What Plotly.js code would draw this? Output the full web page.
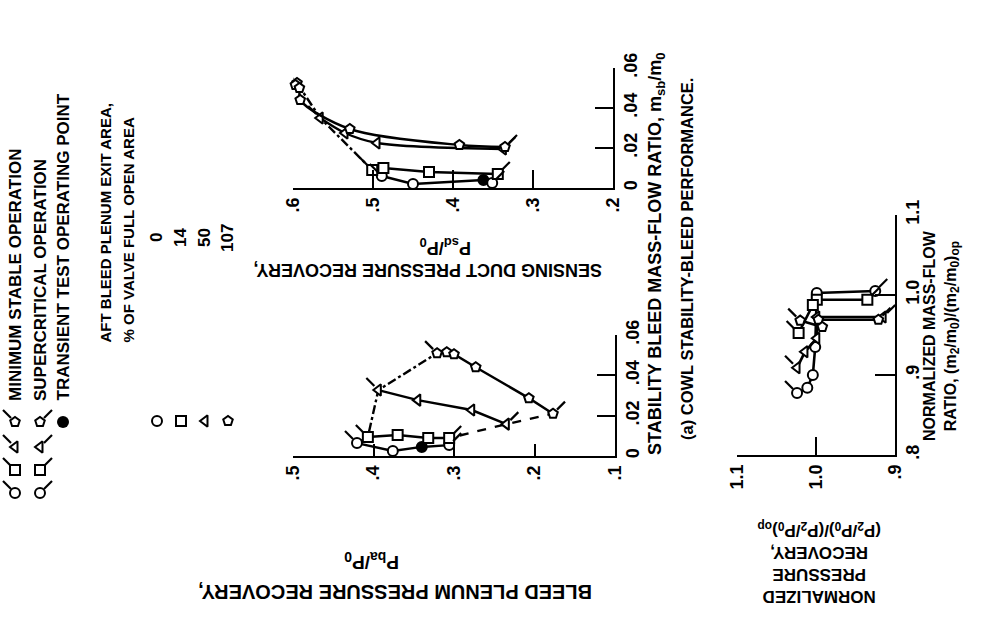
<!DOCTYPE html>
<html><head><meta charset="utf-8">
<script src="https://cdn.plot.ly/plotly-3.0.1.min.js"></script>
<style>html,body{margin:0;padding:0;background:#fff}#chart{width:984px;height:621px}</style>
</head><body><div id="chart"></div>
<script>
// ================= DATA =================
// (a) Bleed plenum pressure recovery Pba/P0 vs stability bleed mass-flow ratio msb/m0
const valveAreas = ["0", "14", "50", "107"];

const bleedCircleP = [0.4205, 0.376, 0.340, 0.306];
const bleedCircleM = [0.0064, 0.0025, 0.0045, 0.0054];
const bleedCircleStatus = ["min", "sub", "transient", "super"];

const bleedSquareP = [0.407, 0.370, 0.332, 0.306];
const bleedSquareM = [0.0094, 0.0104, 0.0089, 0.0089];
const bleedSquareStatus = ["min", "sub", "sub", "super"];

const bleedTriangleP = [0.394, 0.345, 0.278, 0.235];
const bleedTriangleM = [0.0327, 0.0277, 0.0228, 0.0158];
const bleedTriangleStatus = ["min", "sub", "sub", "super"];

const bleedDomeP = [0.321, 0.309, 0.300, 0.273, 0.207, 0.177];
const bleedDomeM = [0.051, 0.0515, 0.0505, 0.044, 0.0287, 0.021];
const bleedDomeStatus = ["min", "sub", "sub", "sub", "sub", "super"];

// (a) Sensing duct pressure recovery Psd/P0 vs msb/m0
const sensCircleP = [0.489, 0.450, 0.362, 0.351];
const sensCircleM = [0.006, 0.002, 0.004, 0.0025];
const sensCircleStatus = ["min", "sub", "transient", "super"];

const sensSquareP = [0.501, 0.487, 0.430, 0.344];
const sensSquareM = [0.009, 0.010, 0.008, 0.007];
const sensSquareStatus = ["min", "sub", "sub", "super"];

const sensTriangleP = [0.566, 0.535, 0.495, 0.337];
const sensTriangleM = [0.035, 0.0275, 0.0225, 0.0195];
const sensTriangleStatus = ["min", "sub", "sub", "super"];

const sensDomeP = [0.595, 0.597, 0.592, 0.591, 0.529, 0.392, 0.335];
const sensDomeM = [0.0525, 0.0515, 0.050, 0.044, 0.0295, 0.0215, 0.0205];
const sensDomeStatus = ["min", "sub", "sub", "sub", "sub", "sub", "super"];

// Normalized pressure recovery vs normalized mass-flow ratio
const normCircleP = [0.925, 0.999, 1.001, 1.004, 1.011, 1.024];
const normCircleM = [1.005, 1.0025, 0.935, 0.900, 0.884, 0.8775];
const normCircleStatus = ["super", "sub", "sub", "sub", "sub", "min"];

const normSquareP = [0.935, 0.999, 1.004, 1.022];
const normSquareM = [0.994, 0.994, 0.9875, 0.9525];
const normSquareStatus = ["super", "sub", "sub", "min"];

const normTriangleP = [0.915, 0.999, 0.999, 1.014, 1.024];
const normTriangleM = [0.9725, 0.9725, 0.946, 0.929, 0.909];
const normTriangleStatus = ["super", "sub", "sub", "sub", "min"];

const normDomeP = [0.921, 0.997, 0.992, 1.020];
const normDomeM = [0.969, 0.969, 0.960, 0.968];
const normDomeStatus = ["super", "sub", "sub", "min"];

// Tick labels
const bleedPTicks = [0.5, 0.4, 0.3, 0.2, 0.1];
const bleedPTickText = [".5", ".4", ".3", ".2", ".1"];
const sensPTicks = [0.6, 0.5, 0.4, 0.3, 0.2];
const sensPTickText = [".6", ".5", ".4", ".3", ".2"];
const mTicks = [0, 0.02, 0.04, 0.06];
const mTickText = ["0", ".02", ".04", ".06"];
const normPTicks = [1.1, 1.0, 0.9];
const normPTickText = ["1.1", "1.0", ".9"];
const normMTicks = [0.8, 0.9, 1.0, 1.1];
const normMTickText = [".8", ".9", "1.0", "1.1"];

// ================= STYLE / BUILD =================
const FONT = '"Liberation Sans", Arial, sans-serif';
const W = 984, H = 621;
const SYM = {circle: "circle", square: "square", triangle: "triangle-left", dome: "pentagon"};
const MSIZE = 10;

// subscript via a styled span (smaller, lowered)
const sb = (s, fs) => '<span style="font-size:' + fs + 'px;baseline-shift:-28%">' + s + '</span>';

const traces = [];
const annotations = [];
const flags = [];   // {x, y, ax, dir} : tails drawn after layout via the axes' own scales

function addSeries(P, M, status, shape, ax, lineOpts) {
  lineOpts = lineOpts || {};
  traces.push({
    type: "scatter", mode: "lines+markers", x: P, y: M,
    xaxis: "x" + ax, yaxis: "y" + ax, cliponaxis: false, hoverinfo: "skip",
    line: {color: "#000", width: lineOpts.width || 2.4, shape: lineOpts.shape || "linear", smoothing: 0.9},
    marker: {
      symbol: SYM[shape], size: MSIZE,
      color: status.map(s => s === "transient" ? "#000" : "#fff"),
      line: {color: "#000", width: 2}
    }
  });
  status.forEach((s, i) => {
    if (s === "min" || s === "super") flags.push({x: P[i], y: M[i], ax: ax, dir: s});
  });
}

function boundary(seriesList, which, ax, dash) {
  const xs = [], ys = [];
  seriesList.forEach(([P, M, S]) => {
    S.forEach((s, i) => { if (s === which) { xs.push(P[i]); ys.push(M[i]); } });
  });
  traces.push({
    type: "scatter", mode: "lines", x: xs, y: ys, xaxis: "x" + ax, yaxis: "y" + ax,
    cliponaxis: false, hoverinfo: "skip",
    line: {color: "#000", width: 2.4, dash: dash}
  });
}

// Panel 1 (bleed plenum)
const bleedList = [
  [bleedCircleP, bleedCircleM, bleedCircleStatus],
  [bleedSquareP, bleedSquareM, bleedSquareStatus],
  [bleedTriangleP, bleedTriangleM, bleedTriangleStatus],
  [bleedDomeP, bleedDomeM, bleedDomeStatus]
];
boundary(bleedList, "min", "", "dashdot");
boundary(bleedList, "super", "", "dash");
addSeries(bleedCircleP, bleedCircleM, bleedCircleStatus, "circle", "");
addSeries(bleedSquareP, bleedSquareM, bleedSquareStatus, "square", "");
addSeries(bleedTriangleP, bleedTriangleM, bleedTriangleStatus, "triangle", "");
addSeries(bleedDomeP, bleedDomeM, bleedDomeStatus, "dome", "");

// Panel 2 (sensing duct)
const sensList = [
  [sensCircleP, sensCircleM, sensCircleStatus],
  [sensSquareP, sensSquareM, sensSquareStatus],
  [sensTriangleP, sensTriangleM, sensTriangleStatus],
  [sensDomeP, sensDomeM, sensDomeStatus]
];
boundary(sensList.slice().reverse(), "min", "2", "dashdot");
addSeries(sensCircleP, sensCircleM, sensCircleStatus, "circle", "2");
addSeries(sensSquareP, sensSquareM, sensSquareStatus, "square", "2");
addSeries(sensTriangleP, sensTriangleM, sensTriangleStatus, "triangle", "2", {shape: "spline"});
addSeries(sensDomeP, sensDomeM, sensDomeStatus, "dome", "2", {shape: "spline"});

// Panel 3 (normalized)
addSeries(normCircleP, normCircleM, normCircleStatus, "circle", "3", {width: 2.6});
addSeries(normSquareP, normSquareM, normSquareStatus, "square", "3", {width: 2.6});
addSeries(normTriangleP, normTriangleM, normTriangleStatus, "triangle", "3", {width: 2.6});
addSeries(normDomeP, normDomeM, normDomeStatus, "dome", "3", {width: 2.6});

function txt(text, x, y, angle, size, xa, ya) {
  return {xref: "paper", yref: "paper", x: x / W, y: 1 - y / H, text: text, textangle: angle,
    showarrow: false, xanchor: xa, yanchor: ya,
    font: {family: FONT, size: size, color: "#000", weight: "bold"}};
}

// Legend keys (helper pixel axes x4/y4)
const keyShapes = ["dome", "triangle", "square", "circle"];
const keyRowsY = [422, 447, 470, 493];
const areaShapes = ["circle", "square", "triangle", "dome"];
const areaKeyX = [157, 181, 205, 228];
keyShapes.forEach((sh, i) => {
  [["min", 15], ["super", 40]].forEach(([st, x]) => {
    traces.push({type: "scatter", mode: "markers", x: [x], y: [keyRowsY[i]], xaxis: "x4", yaxis: "y4",
      cliponaxis: false, hoverinfo: "skip",
      marker: {symbol: SYM[sh], size: MSIZE, color: "#fff", line: {color: "#000", width: 2}}});
    flags.push({x: x, y: keyRowsY[i], ax: "4", dir: st});
  });
});
traces.push({type: "scatter", mode: "markers", x: [63], y: [422], xaxis: "x4", yaxis: "y4",
  cliponaxis: false, hoverinfo: "skip", marker: {symbol: "circle", size: MSIZE + 2, color: "#000"}});
areaShapes.forEach((sh, i) => {
  traces.push({type: "scatter", mode: "markers", x: [areaKeyX[i]], y: [421], xaxis: "x4", yaxis: "y4",
    cliponaxis: false, hoverinfo: "skip",
    marker: {symbol: SYM[sh], size: MSIZE, color: "#fff", line: {color: "#000", width: 2}}});
  annotations.push(txt(valveAreas[i], areaKeyX[i], 238, -90, 17, "center", "middle"));
});

// legend texts
annotations.push(txt("MINIMUM STABLE OPERATION", 15, 403, -90, 17, "center", "bottom"));
annotations.push(txt("SUPERCRITICAL OPERATION", 40, 403, -90, 17, "center", "bottom"));
annotations.push(txt("TRANSIENT TEST OPERATING POINT", 63, 403, -90, 17, "center", "bottom"));
annotations.push(txt("AFT BLEED PLENUM EXIT AREA,", 105, 345, -90, 15, "center", "bottom"));
annotations.push(txt("% OF VALVE FULL OPEN AREA", 128, 345, -90, 15, "center", "bottom"));

// axis titles
annotations.push(txt("STABILITY BLEED MASS-FLOW RATIO, m" + sb("sb", 13) + "/m" + sb("0", 13), 656, 457, -90, 18, "center", "bottom"));
annotations.push(txt("(a) COWL STABILITY-BLEED PERFORMANCE.", 687, 442, -90, 16.5, "center", "bottom"));
annotations.push(txt("SENSING DUCT PRESSURE RECOVERY,", 428, 270, 180, 18, "center", "middle"));
annotations.push(txt("P" + sb("sd", 13) + "/P" + sb("0", 13), 446, 247, 180, 18, "center", "middle"));
annotations.push(txt("BLEED PLENUM PRESSURE RECOVERY,", 395, 592, 180, 20, "center", "middle"));
annotations.push(txt("P" + sb("ba", 14) + "/P" + sb("0", 14), 372, 561, 180, 19, "center", "middle"));
annotations.push(txt("NORMALIZED<br>PRESSURE<br>RECOVERY,<br>(P" + sb("2", 12) + "/P" + sb("0", 12) + ")/(P" + sb("2", 12) + "/P" + sb("0", 12) + ")" + sb("op", 12),
  819, 562, 180, 17, "center", "middle"));
annotations.push(txt("NORMALIZED MASS-FLOW<br>RATIO, (m" + sb("2", 12) + "/m" + sb("0", 12) + ")/(m" + sb("2", 12) + "/m" + sb("0", 12) + ")" + sb("op", 12),
  941, 336, -90, 16, "center", "middle"));

// axes
const tickFont = {family: FONT, size: 18, color: "#000", weight: "bold"};
function ax(extra) {
  return Object.assign({showline: true, linecolor: "#000", linewidth: 2.4, ticks: "inside",
    tickcolor: "#000", tickwidth: 2, showgrid: false, zeroline: false, tickfont: tickFont,
    fixedrange: true, tickangle: -90, tickmode: "array"}, extra);
}
const px = (a, b) => [a / W, b / W];
const py = (top, bottom) => [1 - bottom / H, 1 - top / H];

const layout = {
  width: W, height: H, margin: {l: 0, r: 0, t: 0, b: 0},
  paper_bgcolor: "#fff", plot_bgcolor: "rgba(0,0,0,0)", showlegend: false,
  xaxis: ax({domain: px(293, 615), range: [0.5, 0.1], tickvals: bleedPTicks, ticktext: bleedPTickText, ticklen: 12, anchor: "y"}),
  yaxis: ax({domain: py(335, 456), range: [0, 0.06], tickvals: mTicks, ticktext: mTickText, ticklen: 18, side: "right", anchor: "x"}),
  xaxis2: ax({domain: px(293, 613), range: [0.6, 0.2], tickvals: sensPTicks, ticktext: sensPTickText, ticklen: 18, anchor: "y2"}),
  yaxis2: ax({domain: py(68, 188), range: [0, 0.06], tickvals: mTicks, ticktext: mTickText, ticklen: 18, side: "right", anchor: "x2"}),
  xaxis3: ax({domain: px(737, 895), range: [1.1, 0.9], tickvals: normPTicks, ticktext: normPTickText, ticklen: 18, anchor: "y3"}),
  yaxis3: ax({domain: py(215, 455), range: [0.8, 1.1], tickvals: normMTicks, ticktext: normMTickText, ticklen: 20, side: "right", anchor: "x3"}),
  xaxis4: {domain: [0, 1], range: [0, W], visible: false, fixedrange: true, anchor: "y4"},
  yaxis4: {domain: [0, 1], range: [H, 0], visible: false, fixedrange: true, anchor: "x4"},
  annotations: annotations
};

Plotly.newPlot("chart", traces, layout, {staticPlot: true, displayModeBar: false}).then(gd => {
  // flags: short 45-degree tails on the marker, positioned with the axes' own pixel scales
  const fl = gd._fullLayout;
  const groups = {};
  flags.forEach(f => { (groups[f.ax] = groups[f.ax] || []).push(f); });
  const extra = Object.keys(groups).map(a => {
    const xa = fl["xaxis" + a], ya = fl["yaxis" + a];
    const xs = [], ys = [];
    groups[a].forEach(f => {
      const sx = f.dir === "min" ? -1 : 1;
      const X = xa.c2p(f.x), Y = ya.c2p(f.y);
      xs.push(xa.p2c(X + sx * 4), xa.p2c(X + sx * 12), null);
      ys.push(ya.p2c(Y - 4), ya.p2c(Y - 12), null);
    });
    return {type: "scatter", mode: "lines", x: xs, y: ys, xaxis: "x" + a, yaxis: "y" + a,
      connectgaps: false, cliponaxis: false, hoverinfo: "skip",
      line: {color: "#000", width: 2.2}};
  });
  return Plotly.addTraces(gd, extra);
});
</script>
</body></html>
